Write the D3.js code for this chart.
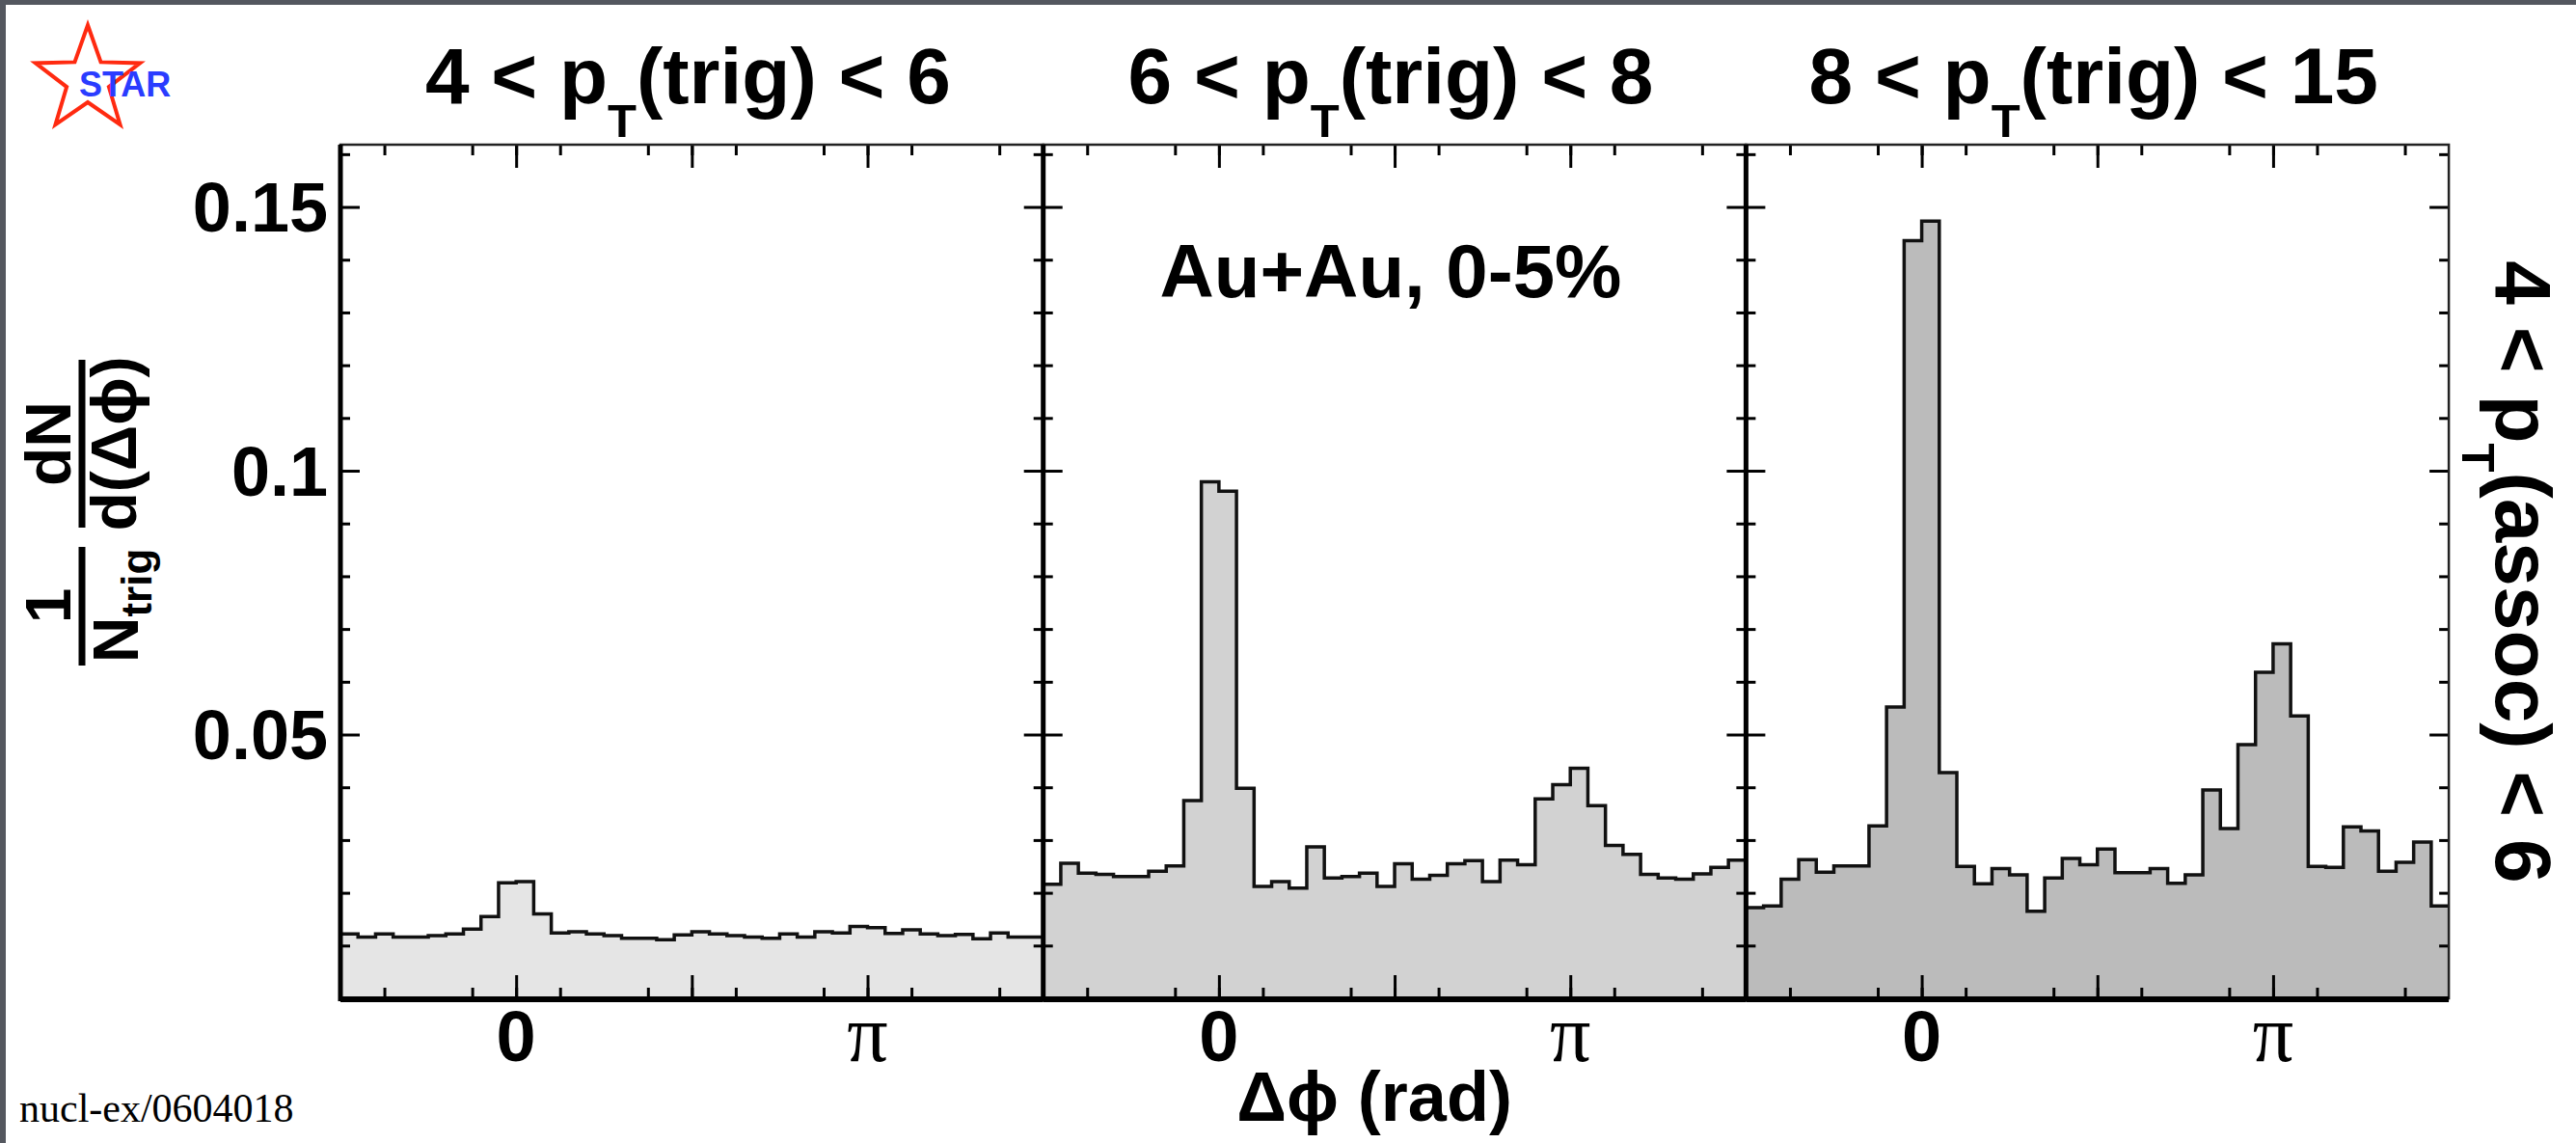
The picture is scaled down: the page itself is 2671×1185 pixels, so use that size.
<!DOCTYPE html>
<html>
<head>
<meta charset="utf-8">
<script src="https://cdn.jsdelivr.net/npm/d3@7"></script>
<style>
body { margin: 0; background: #54575f; }
svg { display: block; }
</style>
</head>
<body>
<script>
var w = 2671;
var h = 1185;
var PI = Math.PI;

// trigger pT ranges (one panel each)
var trigLo = [4, 6, 8];
var trigHi = [6, 8, 15];

// 40 bins in dphi, width pi/20, from -pi/2 to 3pi/2
var nBins = 40;
var binLo = d3.range(nBins).map(function(i){ return -PI / 2 + i * PI / 20; });

// 1/Ntrig dN/d(dphi)
var trig4to6 = [0.0122, 0.0116, 0.0122, 0.0116, 0.0116, 0.0119, 0.0122, 0.0131, 0.0155, 0.0219,
                0.0221, 0.0160, 0.0124, 0.0126, 0.0122, 0.0119, 0.0114, 0.0114, 0.0111, 0.0120,
                0.0126, 0.0122, 0.0119, 0.0116, 0.0114, 0.0122, 0.0116, 0.0126, 0.0124, 0.0136,
                0.0134, 0.0123, 0.0130, 0.0122, 0.0119, 0.0121, 0.0113, 0.0124, 0.0116, 0.0116];
var trig6to8 = [0.0216, 0.0256, 0.0237, 0.0235, 0.0231, 0.0231, 0.0241, 0.0251, 0.0375, 0.0979,
                0.0961, 0.0398, 0.0212, 0.0221, 0.0209, 0.0287, 0.0228, 0.0231, 0.0237, 0.0212,
                0.0255, 0.0226, 0.0233, 0.0255, 0.0261, 0.0221, 0.0262, 0.0253, 0.0378, 0.0405,
                0.0436, 0.0365, 0.0290, 0.0273, 0.0235, 0.0228, 0.0226, 0.0236, 0.0248, 0.0262];
var trig8to15 = [0.0172, 0.0175, 0.0226, 0.0263, 0.0239, 0.0251, 0.0251, 0.0327, 0.0552, 0.1436,
                 0.1473, 0.0428, 0.0250, 0.0217, 0.0246, 0.0234, 0.0165, 0.0228, 0.0265, 0.0253,
                 0.0283, 0.0238, 0.0238, 0.0246, 0.0218, 0.0234, 0.0395, 0.0322, 0.0481, 0.0618,
                 0.0672, 0.0535, 0.0250, 0.0248, 0.0325, 0.0317, 0.0241, 0.0258, 0.0296, 0.0175];
var series = [trig4to6, trig6to8, trig8to15];
var fills = ["#e5e5e5", "#d2d2d2", "#bbbbbb"];

var yTickLabels = [0.05, 0.1, 0.15];
var xLabelTicks = [0, PI];

var svg = d3.select("body").append("svg").attr("width", w).attr("height", h);
svg.append("rect").attr("width", w).attr("height", h).attr("fill", "#54575f");
svg.append("rect").attr("x", 6).attr("y", 5).attr("width", w - 6).attr("height", h - 5).attr("fill", "#fff");

// note: "top" is taken by window.top, so plot edges get their own names
var plotTop = 150, plotBottom = 1035, plotLeft = 353, pw = 728.7;
var y = d3.scaleLinear().domain([0, 0.1618]).range([plotBottom, plotTop]);
var font = "'Liberation Sans', Arial, Helvetica, sans-serif";

var minorX = d3.range(-3, 12).map(function(i){ return i * PI / 8; }).filter(function(d, i){ return (i + 3) % 4 !== 0; });
var majorX = [0, PI / 2, PI];
var minorY = d3.range(1, 17).filter(function(i){ return i % 5 !== 0; }).map(function(i){ return i / 100; });
var majorY = [0.05, 0.1, 0.15];

function ticks(g){
  g.select(".domain").remove();
  g.selectAll("line").attr("stroke", "#000").attr("stroke-width", 3);
}

series.forEach(function(vals, p){
  var x0 = plotLeft + p * pw, x1 = plotLeft + (p + 1) * pw;
  var x = d3.scaleLinear().domain([-PI / 2, 3 * PI / 2]).range([x0, x1]);
  var pts = vals.map(function(v, i){ return {x: binLo[i], v: v}; });
  pts.push({x: 3 * PI / 2, v: vals[vals.length - 1]});
  var g = svg.append("g");

  g.append("path").datum(pts)
    .attr("d", d3.area().curve(d3.curveStepAfter)
      .x(function(d){ return x(d.x); }).y0(y(0)).y1(function(d){ return y(d.v); }))
    .attr("fill", fills[p]);
  g.append("path").datum(pts)
    .attr("d", d3.line().curve(d3.curveStepAfter)
      .x(function(d){ return x(d.x); }).y(function(d){ return y(d.v); }))
    .attr("fill", "none").attr("stroke", "#111").attr("stroke-width", 3.5);

  // ticks on all four sides, pointing inwards
  g.append("g").attr("transform", "translate(0," + plotBottom + ")")
    .call(d3.axisBottom(x).tickValues(minorX).tickSize(-11).tickFormat("")).call(ticks);
  g.append("g").attr("transform", "translate(0," + plotBottom + ")")
    .call(d3.axisBottom(x).tickValues(majorX).tickSize(-24).tickFormat("")).call(ticks);
  g.append("g").attr("transform", "translate(0," + plotTop + ")")
    .call(d3.axisTop(x).tickValues(minorX).tickSize(-11).tickFormat("")).call(ticks);
  g.append("g").attr("transform", "translate(0," + plotTop + ")")
    .call(d3.axisTop(x).tickValues(majorX).tickSize(-24).tickFormat("")).call(ticks);
  g.append("g").attr("transform", "translate(" + x0 + ",0)")
    .call(d3.axisLeft(y).tickValues(minorY).tickSize(-10).tickFormat("")).call(ticks);
  g.append("g").attr("transform", "translate(" + x0 + ",0)")
    .call(d3.axisLeft(y).tickValues(majorY).tickSize(-20).tickFormat("")).call(ticks);
  g.append("g").attr("transform", "translate(" + x1 + ",0)")
    .call(d3.axisRight(y).tickValues(minorY).tickSize(-10).tickFormat("")).call(ticks);
  g.append("g").attr("transform", "translate(" + x1 + ",0)")
    .call(d3.axisRight(y).tickValues(majorY).tickSize(-20).tickFormat("")).call(ticks);

  // frame
  g.append("rect").attr("x", x0).attr("y", plotTop).attr("width", x1 - x0).attr("height", plotBottom - plotTop)
    .attr("fill", "none").attr("stroke", "#222").attr("stroke-width", 2.5);
  g.append("line").attr("x1", x0).attr("x2", x0).attr("y1", plotTop).attr("y2", plotBottom + 3)
    .attr("stroke", "#000").attr("stroke-width", 5);
  g.append("line").attr("x1", x0).attr("x2", x1).attr("y1", plotBottom + 1).attr("y2", plotBottom + 1)
    .attr("stroke", "#000").attr("stroke-width", 6);

  // x labels: 0 and pi
  g.selectAll(".xl").data(xLabelTicks).enter().append("text")
    .attr("x", function(d){ return x(d); }).attr("y", 1100)
    .attr("text-anchor", "middle")
    .attr("font-family", function(d){ return d === 0 ? font : "'Liberation Serif', 'Times New Roman', serif"; })
    .attr("font-weight", function(d){ return d === 0 ? "bold" : "normal"; })
    .attr("font-size", function(d){ return d === 0 ? 74 : 84; })
    .text(function(d){ return d === 0 ? "0" : "\u03c0"; });

  // panel title
  var t = svg.append("text").attr("x", (x0 + x1) / 2 - 4).attr("y", 107)
    .attr("text-anchor", "middle").attr("font-family", font).attr("font-weight", "bold").attr("font-size", 82);
  t.append("tspan").text(trigLo[p] + " < p");
  t.append("tspan").attr("dy", 35).attr("font-size", 49).text("T");
  t.append("tspan").attr("dy", -35).text("(trig) < " + trigHi[p]);

  if (p === 0) {
    svg.selectAll(".yl").data(yTickLabels).enter().append("text")
      .attr("x", 340).attr("y", function(d){ return y(d); }).attr("dy", "0.36em")
      .attr("text-anchor", "end").attr("font-family", font).attr("font-weight", "bold").attr("font-size", 72)
      .text(function(d){ return d; });
  }
  if (p === 1) {
    svg.append("text").attr("x", 1442).attr("y", 308).attr("text-anchor", "middle")
      .attr("font-family", font).attr("font-weight", "bold").attr("font-size", 78).text("Au+Au, 0-5%");
  }
});

// x axis title
svg.append("text").attr("x", 1425).attr("y", 1162).attr("text-anchor", "middle")
  .attr("font-family", font).attr("font-weight", "bold").attr("font-size", 72).text("\u0394\u03d5 (rad)");

// y axis title: 1/N_trig dN/d(dphi), rotated
var yl = svg.append("g").attr("transform", "translate(85,0) rotate(-90)");
yl.append("line").attr("x1", -690).attr("x2", -567).attr("y1", 0).attr("y2", 0).attr("stroke", "#000").attr("stroke-width", 7);
yl.append("line").attr("x1", -547).attr("x2", -373).attr("y1", 0).attr("y2", 0).attr("stroke", "#000").attr("stroke-width", 7);
yl.append("text").attr("x", -628).attr("y", -12).attr("text-anchor", "middle")
  .attr("font-family", font).attr("font-weight", "bold").attr("font-size", 66).text("1");
var nt = yl.append("text").attr("x", -628).attr("y", 58).attr("text-anchor", "middle")
  .attr("font-family", font).attr("font-weight", "bold").attr("font-size", 66);
nt.append("tspan").text("N");
nt.append("tspan").attr("dy", 14).attr("font-size", 44).text("trig");
yl.append("text").attr("x", -460).attr("y", -12).attr("text-anchor", "middle")
  .attr("font-family", font).attr("font-weight", "bold").attr("font-size", 66).text("dN");
yl.append("text").attr("x", -460).attr("y", 56).attr("text-anchor", "middle")
  .attr("font-family", font).attr("font-weight", "bold").attr("font-size", 66).text("d(\u0394\u03d5)");

// right label: associated pT range
var rl = svg.append("text").attr("transform", "translate(2588,593) rotate(90)")
  .attr("text-anchor", "middle").attr("font-family", font).attr("font-weight", "bold").attr("font-size", 82);
rl.append("tspan").text("4 < p");
rl.append("tspan").attr("dy", 35).attr("font-size", 49).text("T");
rl.append("tspan").attr("dy", -35).text("(assoc) < 6");

// source note
svg.append("text").attr("x", 20).attr("y", 1163)
  .attr("font-family", "'Liberation Serif', 'Times New Roman', serif").attr("font-size", 42).text("nucl-ex/0604018");

// STAR logo
var star = d3.range(10).map(function(i){
  var r = i % 2 === 0 ? 57 : 23, a = -PI / 2 + i * PI / 5;
  return [91 + r * Math.cos(a), 83 + r * Math.sin(a)];
});
svg.append("polygon").attr("points", star.map(function(d){ return d.join(","); }).join(" "))
  .attr("fill", "none").attr("stroke", "#ff2a10").attr("stroke-width", 4);
svg.append("text").attr("x", 82).attr("y", 100).attr("font-family", font).attr("font-weight", "bold")
  .attr("font-size", 36).attr("fill", "#2a3cff").text("STAR");
</script>
</body>
</html>
